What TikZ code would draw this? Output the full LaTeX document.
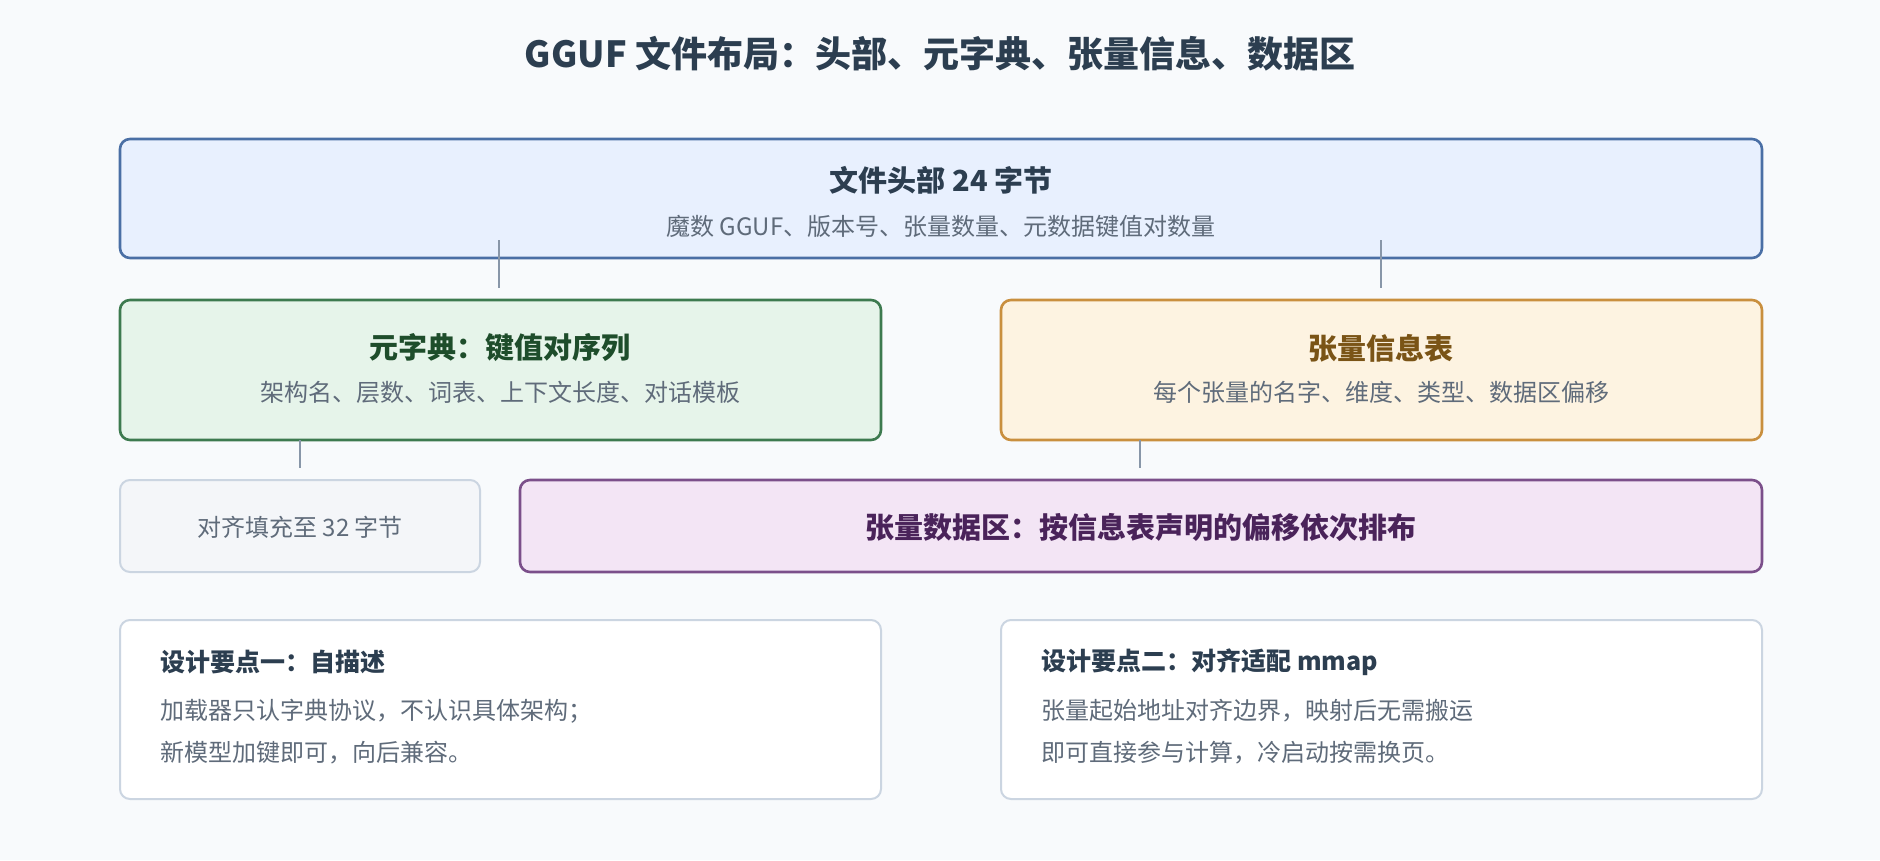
\documentclass[tikz,border=0pt]{standalone}
\usepackage{fontspec}
\setmainfont{Noto Sans CJK SC}
\usetikzlibrary{positioning}
\definecolor{pagebg}{HTML}{F8FAFC}
\definecolor{ink}{HTML}{2C3E50}
\definecolor{greytext}{HTML}{5F6B7A}
\definecolor{tickc}{HTML}{8896A8}
\definecolor{hdrfill}{HTML}{E8F0FE}\definecolor{hdrline}{HTML}{4A6FA5}
\definecolor{metafill}{HTML}{E6F4EA}\definecolor{metaline}{HTML}{3D7A4F}\definecolor{metatext}{HTML}{1E4D2B}
\definecolor{infofill}{HTML}{FDF3E1}\definecolor{infoline}{HTML}{C98F3E}\definecolor{infotext}{HTML}{7A5416}
\definecolor{padfill}{HTML}{F4F6F9}\definecolor{padline}{HTML}{CBD5E1}
\definecolor{datafill}{HTML}{F3E5F5}\definecolor{dataline}{HTML}{7B4F8A}\definecolor{datatext}{HTML}{4A235A}
\tikzset{
  blk/.style={draw, rounded corners=10pt, line width=2.6pt},
  note/.style={draw=padline, fill=white, rounded corners=10pt, line width=2pt},
  head/.style={font=\fontsize{29}{34}\selectfont\bfseries},
  sub/.style={font=\fontsize{24}{28}\selectfont, text=greytext},
  tick/.style={draw=tickc, line width=2.6pt}
}
\begin{document}
\begin{tikzpicture}[x=1pt,y=-1pt]
    \useasboundingbox[fill=pagebg] (0,0) rectangle (1880,860);
    % Title
    \node[font=\fontsize{36}{42}\selectfont\bfseries, text=ink] (title) at (940,54) {GGUF 文件布局：头部、元字典、张量信息、数据区};

    % Boxes
    \draw[blk, draw=hdrline, fill=hdrfill] (120,139) rectangle (1762,258);
    \node[head, text=ink] (hdr) at (941,180) {文件头部 24 字节};
    \node[sub] (hdrsub) at (941,226) {魔数 GGUF、版本号、张量数量、元数据键值对数量};

    \draw[blk, draw=metaline, fill=metafill] (120,300) rectangle (881,440);
    \node[head, text=metatext] (meta) at (500,348) {元字典：键值对序列};
    \node[sub] (metasub) at (500,392) {架构名、层数、词表、上下文长度、对话模板};

    \draw[blk, draw=infoline, fill=infofill] (1001,300) rectangle (1762,440);
    \node[head, text=infotext] (info) at (1381,348) {张量信息表};
    \node[sub] (infosub) at (1381,392) {每个张量的名字、维度、类型、数据区偏移};

    \draw[note, fill=padfill] (120,480) rectangle (480,572);
    \node[sub] (pad) at (300,527) {对齐填充至 32 字节};

    \draw[blk, draw=dataline, fill=datafill] (520,480) rectangle (1762,572);
    \node[head, text=datatext] (data) at (1141,527) {张量数据区：按信息表声明的偏移依次排布};

    % Ticks
    \coordinate (t1a) at (499,240); \coordinate (t1b) at (499,288);
    \coordinate (t2a) at (1381,240); \coordinate (t2b) at (1381,288);
    \coordinate (t3a) at (300,440); \coordinate (t3b) at (300,468);
    \coordinate (t4a) at (1140,440); \coordinate (t4b) at (1140,468);
    \foreach \a/\b in {t1a/t1b,t2a/t2b,t3a/t3b,t4a/t4b} \draw[tick] (\a) -- (\b);

    % Notes
    \draw[note] (120,620) rectangle (881,799);
    \node[font=\fontsize{25}{30}\selectfont\bfseries, text=ink, anchor=west] (n1) at (157,662) {设计要点一：自描述};
    \node[sub, anchor=west, align=left] (n1txt) at (157,732) {加载器只认字典协议，不认识具体架构；\\[14pt]新模型加键即可，向后兼容。};

    \draw[note] (1001,620) rectangle (1762,799);
    \node[font=\fontsize{25}{30}\selectfont\bfseries, text=ink, anchor=west] (n2) at (1038,662) {设计要点二：对齐适配 mmap};
    \node[sub, anchor=west, align=left] (n2txt) at (1038,732) {张量起始地址对齐边界，映射后无需搬运\\[14pt]即可直接参与计算，冷启动按需换页。};
\end{tikzpicture}
\end{document}
